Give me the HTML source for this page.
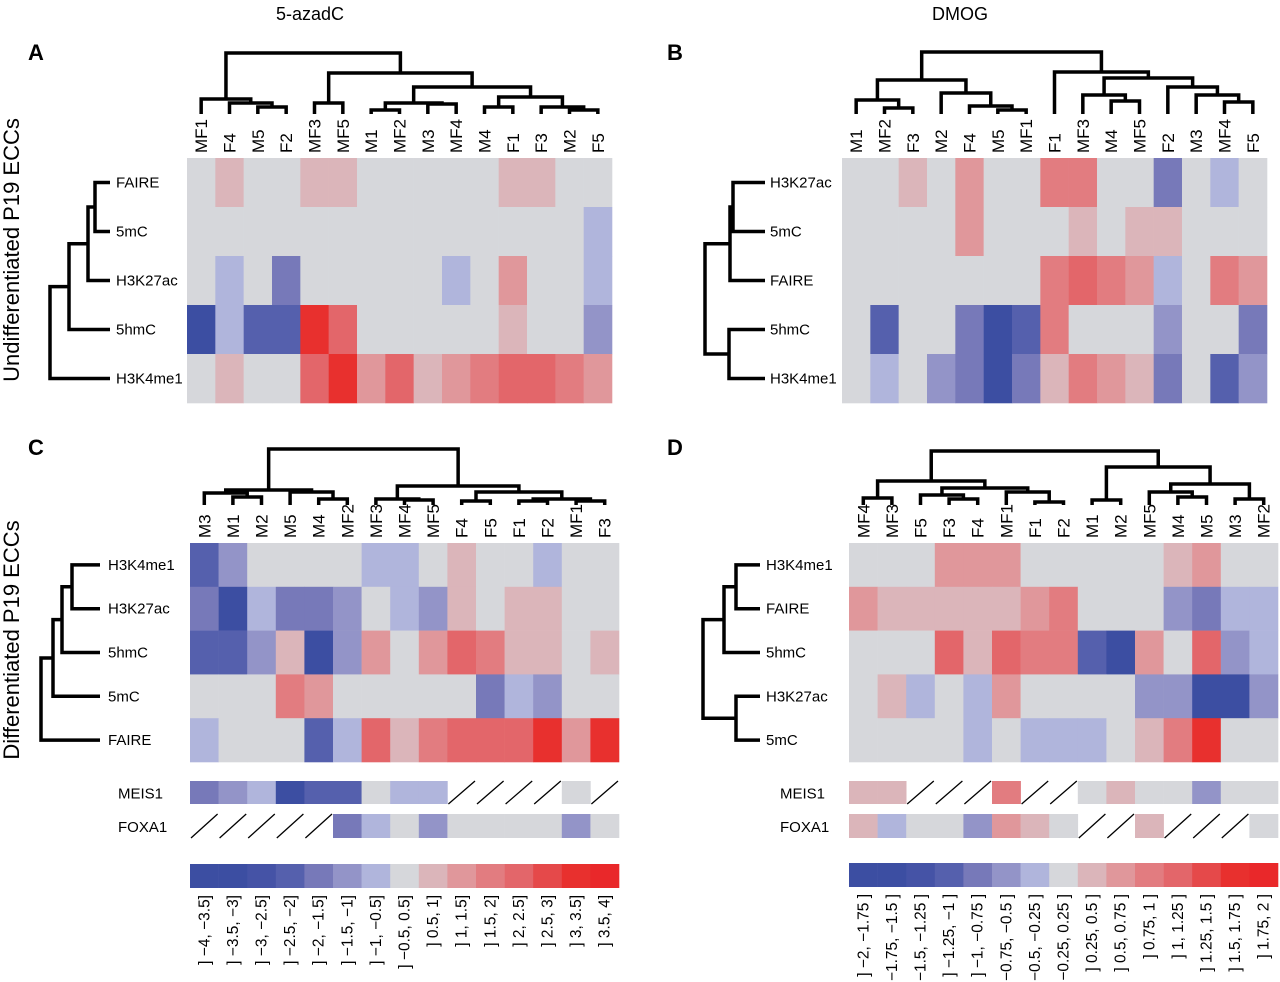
<!DOCTYPE html>
<html><head><meta charset="utf-8"><style>
html,body{margin:0;padding:0;background:#fff;}
svg{display:block;font-family:"Liberation Sans",Arial,sans-serif;}
</style></head><body>
<svg id="fig" width="1280" height="982" viewBox="0 0 1280 982" xmlns="http://www.w3.org/2000/svg">
<text x="310" y="20" font-size="18" text-anchor="middle">5-azadC</text>
<text x="960" y="20" font-size="18" text-anchor="middle">DMOG</text>
<text x="28" y="60" font-size="22" font-weight="bold">A</text>
<text x="667" y="60" font-size="22" font-weight="bold">B</text>
<text x="28" y="455" font-size="22" font-weight="bold">C</text>
<text x="667" y="455" font-size="22" font-weight="bold">D</text>
<text transform="translate(19,250) rotate(-90)" font-size="22" text-anchor="middle">Undifferentiated P19 ECCs</text>
<text transform="translate(19,640) rotate(-90)" font-size="22" text-anchor="middle">Differentiated P19 ECCs</text>
<g id="layer"></g>
</svg>
<script>
// ---- data ----
const colsA = ["MF1","F4","M5","F2","MF3","MF5","M1","MF2","M3","MF4","M4","F1","F3","M2","F5"];
const rowsA = ["FAIRE","5mC","H3K27ac","5hmC","H3K4me1"];
const valsA = [
 [0,1,0,0,1,1,0,0,0,0,0,1,1,0,0],
 [0,0,0,0,0,0,0,0,0,0,0,0,0,0,-1],
 [0,-1,0,-3,0,0,0,0,0,-1,0,2,0,0,-1],
 [-5,-1,-4,-4,5,4,0,0,0,0,0,1,0,0,-2],
 [0,1,0,0,4,5,2,4,1,2,3,4,4,3,2]];
const colsB = ["M1","MF2","F3","M2","F4","M5","MF1","F1","MF3","M4","MF5","F2","M3","MF4","F5"];
const rowsB = ["H3K27ac","5mC","FAIRE","5hmC","H3K4me1"];
const valsB = [
 [0,0,1,0,2,0,0,3,3,0,0,-3,0,-1,0],
 [0,0,0,0,2,0,0,0,1,0,1,1,0,0,0],
 [0,0,0,0,0,0,0,3,4,3,2,-1,0,3,2],
 [0,-4,0,0,-3,-5,-4,3,0,0,0,-2,0,0,-3],
 [0,-1,0,-2,-3,-5,-3,1,3,2,1,-3,0,-4,-2]];
const colsC = ["M3","M1","M2","M5","M4","MF2","MF3","MF4","MF5","F4","F5","F1","F2","MF1","F3"];
const rowsC = ["H3K4me1","H3K27ac","5hmC","5mC","FAIRE"];
const valsC = [
 [-4,-2,0,0,0,0,-1,-1,0,1,0,0,-1,0,0],
 [-3,-5,-1,-3,-3,-2,0,-1,-2,1,0,1,1,0,0],
 [-4,-4,-2,1,-5,-2,2,0,2,4,3,1,1,0,1],
 [0,0,0,3,2,0,0,0,0,0,-3,-1,-2,0,0],
 [-1,0,0,0,-4,-1,4,1,3,4,4,4,5,2,5]];
const meisC = [-3,-2,-1,-5,-4,-4,0,-1,-1,null,null,null,null,0,null];
const foxaC = [null,null,null,null,null,-3,-1,0,-2,0,0,0,0,-2,0];
const colsD = ["MF4","MF3","F5","F3","F4","MF1","F1","F2","M1","M2","MF5","M4","M5","M3","MF2"];
const rowsD = ["H3K4me1","FAIRE","5hmC","H3K27ac","5mC"];
const valsD = [
 [0,0,0,2,2,2,0,0,0,0,0,1,2,0,0],
 [2,1,1,1,1,1,2,3,0,0,0,-2,-3,-1,-1],
 [0,0,0,4,1,4,3,3,-4,-5,2,0,4,-2,-1],
 [0,1,-1,0,-1,2,0,0,0,0,-2,-2,-5,-5,-2],
 [0,0,0,0,-1,0,-1,-1,-1,0,1,3,5,0,0]];
const meisD = [1,1,null,null,null,3,null,null,0,1,0,0,-2,0,0];
const foxaD = [1,-1,0,0,-2,2,1,0,null,null,1,null,null,null,0];
const legendC = ["] \u22124, \u22123.5]","] \u22123.5, \u22123]","] \u22123, \u22122.5]","] \u22122.5, \u22122]","] \u22122, \u22121.5]","] \u22121.5, \u22121]","] \u22121, \u22120.5]","] \u22120.5, 0.5]","] 0.5, 1]","] 1, 1.5]","] 1.5, 2]","] 2, 2.5]","] 2.5, 3]","] 3, 3.5]","] 3.5, 4]"];
const legendCLevels = [-5,-5,-4.5,-4,-3,-2,-1,0,1,2,3,4,4.5,5,5.5];
const legendD = ["] \u22122, \u22121.75 ]","] \u22121.75, \u22121.5 ]","] \u22121.5, \u22121.25 ]","] \u22121.25, \u22121 ]","] \u22121, \u22120.75 ]","] \u22120.75, \u22120.5 ]","] \u22120.5, \u22120.25 ]","] \u22120.25, 0.25 ]","] 0.25, 0.5 ]","] 0.5, 0.75 ]","] 0.75, 1 ]","] 1, 1.25 ]","] 1.25, 1.5 ]","] 1.5, 1.75 ]","] 1.75, 2 ]"];
const legendDLevels = [-5,-5,-4.5,-4,-3,-2,-1,0,1,2,3,4,4.5,5,5.5];
const treeA = [[2,3,107],[1,15,103],[0,16,99],[4,5,103],[6,7,110],[8,9,104],[19,20,103],[13,14,110],[12,22,107],[10,11,107],[24,23,97],[21,25,87],[18,26,73],[17,27,53]];
const treeB = [[1,2,108],[0,15,100],[5,6,110],[4,17,106],[3,18,93],[16,19,80],[9,10,101],[8,21,95],[13,14,102],[12,23,95],[11,24,87],[22,25,78],[7,26,72],[20,27,52]];
const treeC = [[1,2,497],[0,15,493],[4,5,499],[3,17,492],[16,18,490],[7,8,500],[6,20,499],[9,10,501],[11,12,501],[13,14,501],[23,24,499],[22,25,492],[21,26,486],[19,27,449]];
const treeD = [[0,1,498],[3,4,499],[2,16,495],[6,7,502],[5,18,492],[17,19,488],[15,20,481],[8,9,500],[11,12,497],[10,23,492],[13,14,499],[24,25,484],[22,26,467],[21,27,451]];
const rtreeA = [[0,1,95],[5,2,88],[6,3,69],[7,4,50]];
const rtreeB = [[0,1,733],[5,2,730],[3,4,729],[6,7,705]];
const rtreeC = [[0,1,72],[5,2,62],[6,3,53],[7,4,41]];
const rtreeD = [[0,1,736],[5,2,724],[3,4,736],[6,7,703]];

// ---- rendering ----
const NS="http://www.w3.org/2000/svg";
const layer=document.getElementById('layer');
const PAL={"-5":"#3c4ea2","-4.5":"#4553a6","-4":"#5560ad","-3":"#7779b9","-2":"#9394c8","-1":"#b0b5dc","0":"#d6d7db","1":"#dbb5ba","2":"#e0979b","3":"#e27c80","4":"#e3666a","4.5":"#e5494a","5":"#e8302e","5.5":"#e9282a"};
function color(v){return PAL[String(v)]||"#d6d7db";}
function mk(tag,attrs,parent){const e=document.createElementNS(NS,tag);for(const k in attrs)e.setAttribute(k,attrs[k]);(parent||layer).appendChild(e);return e;}

function panel(id,cfg){
  const g=mk('g',{});
  
  
  const n=cfg.cols.length, cw=cfg.w/n, rh=cfg.h/cfg.rows.length;
  const xs=i=>cfg.x+cw*i, ys=j=>cfg.y+rh*j;
  cfg.vals.forEach((row,j)=>row.forEach((v,i)=>{
    const r=mk('rect',{x:xs(i),y:ys(j),width:cw+0.3,height:rh+0.3,fill:color(v)},g);
    
    
  }));
  cfg.cols.forEach((c,i)=>{
    const t=mk('text',{transform:`translate(${xs(i)+cw/2+6},${cfg.y-5}) rotate(-90)`,'font-size':17,'text-anchor':'start'},g);
    t.textContent=c;
    
    
  });
  cfg.rows.forEach((r,j)=>{
    const t=mk('text',{x:cfg.lx,y:ys(j)+rh/2+5,'font-size':15},g);
    t.textContent=r;
    
    
  });
  const nx=cfg.cols.map((c,i)=>xs(i)+cw/2), ny=cfg.cols.map(()=>cfg.leafY);
  let d='';
  cfg.tree.forEach(m=>{
    const a=m[0],b=m[1],y=m[2];
    d+=`M${nx[a]},${ny[a]}V${y}H${nx[b]}V${ny[b]}`;
    nx.push((nx[a]+nx[b])/2); ny.push(y);
  });
  const p=mk('path',{d:d,fill:'none',stroke:'#000','stroke-width':3.5},g);
  
  
  const rx=cfg.rows.map(()=>cfg.leafX), ry=cfg.rows.map((r,j)=>ys(j)+rh/2);
  let d2='';
  cfg.rtree.forEach(m=>{
    const a=m[0],b=m[1],x=m[2];
    d2+=`M${rx[a]},${ry[a]}H${x}V${ry[b]}H${rx[b]}`;
    rx.push(x); ry.push((ry[a]+ry[b])/2);
  });
  const p2=mk('path',{d:d2,fill:'none',stroke:'#000','stroke-width':3.5},g);
  
  
  if(cfg.annot){
    cfg.annot.forEach(an=>{
      const t=mk('text',{x:an.lx,y:an.y+an.h/2+6,'font-size':15},g);
      t.textContent=an.name;
      
      
      an.vals.forEach((v,i)=>{
        if(v===null){
          const l=mk('line',{x1:xs(i)+1,y1:an.y+an.h,x2:xs(i)+cw-1,y2:an.y,stroke:'#000','stroke-width':1.3},g);
          
          
        } else {
          const r=mk('rect',{x:xs(i),y:an.y,width:cw+0.3,height:an.h,fill:color(v)},g);
          
          
        }
      });
    });
  }
  if(cfg.legend){
    const L=cfg.legend, lw=cfg.w/L.labels.length;
    L.labels.forEach((lab,i)=>{
      const r=mk('rect',{x:cfg.x+lw*i,y:L.y,width:lw+0.3,height:24,fill:color(L.levels[i])},g);
      
      
      const t=mk('text',{transform:`translate(${cfg.x+lw*i+lw/2+5},${L.y+31}) rotate(-90)`,'font-size':15.5,'text-anchor':'end'},g);
      t.textContent=lab;
      
      
    });
  }
}
panel('a',{x:187,y:158,w:425,h:245,cols:colsA,rows:rowsA,vals:valsA,lx:116,leafY:114,leafX:110,tree:treeA,rtree:rtreeA});
panel('b',{x:842,y:158,w:425,h:245,cols:colsB,rows:rowsB,vals:valsB,lx:770,leafY:114,leafX:765,tree:treeB,rtree:rtreeB});
panel('c',{x:190,y:543,w:429,h:219,cols:colsC,rows:rowsC,vals:valsC,lx:108,leafY:505,leafX:100,tree:treeC,rtree:rtreeC,
  annot:[{name:'MEIS1',vals:meisC,y:781,h:23,lx:118},{name:'FOXA1',vals:foxaC,y:814,h:24,lx:118}],
  legend:{y:864,labels:legendC,levels:legendCLevels}});
panel('d',{x:849,y:543,w:429,h:219,cols:colsD,rows:rowsD,vals:valsD,lx:766,leafY:505,leafX:760,tree:treeD,rtree:rtreeD,
  annot:[{name:'MEIS1',vals:meisD,y:781,h:23,lx:780},{name:'FOXA1',vals:foxaD,y:814,h:24,lx:780}],
  legend:{y:863,labels:legendD,levels:legendDLevels}});
</script>
</body></html>
